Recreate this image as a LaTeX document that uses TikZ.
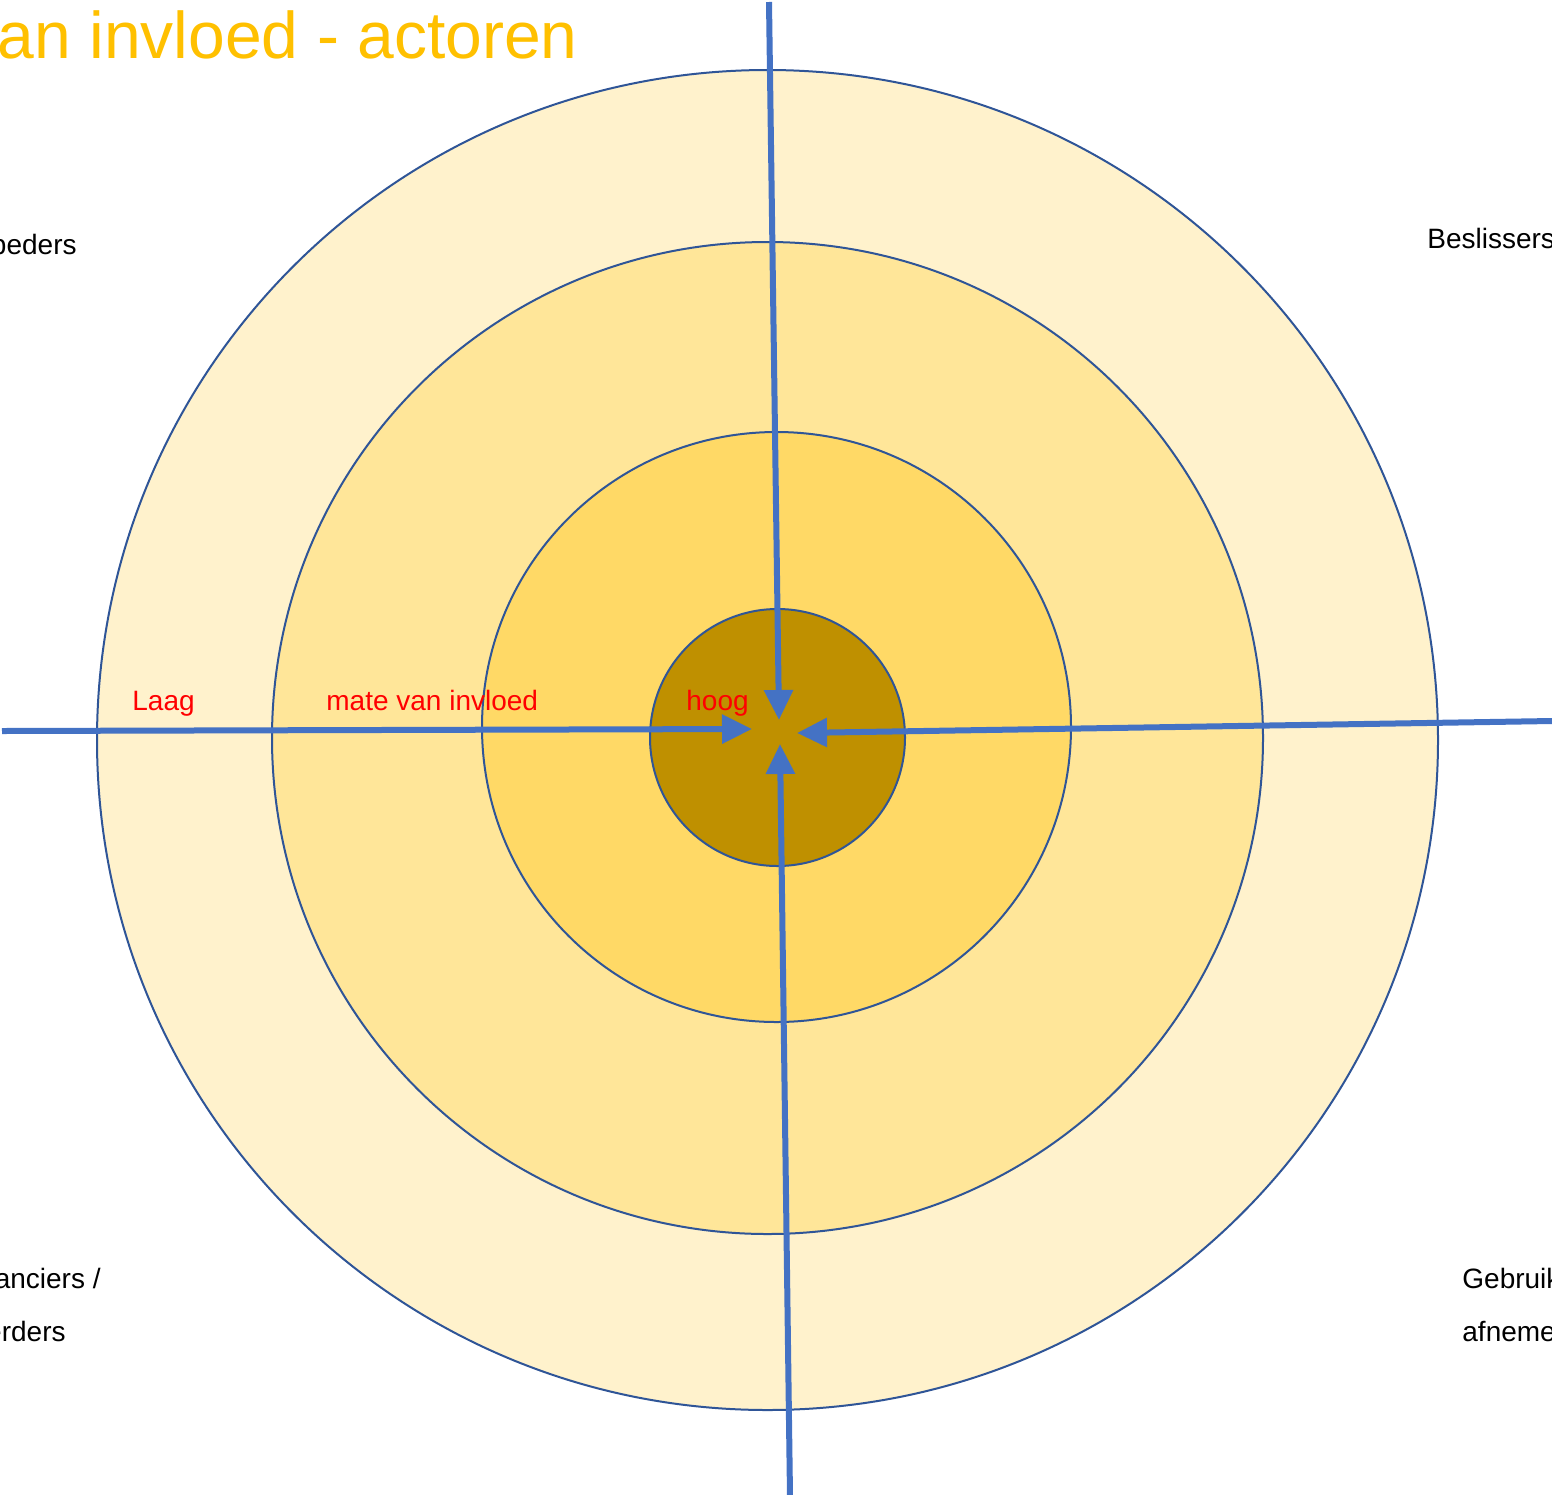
\documentclass[tikz,border=0pt]{standalone}
\usepackage{fontspec}
\setmainfont{Liberation Sans}
\usetikzlibrary{arrows.meta,shapes.geometric}
\definecolor{ringA}{HTML}{FFF2CC}
\definecolor{ringB}{HTML}{FFE699}
\definecolor{ringC}{HTML}{FFD966}
\definecolor{ringD}{HTML}{BF9000}
\definecolor{rim}{HTML}{2F5597}
\definecolor{axis}{HTML}{4472C4}
\definecolor{titel}{HTML}{FFC000}

\begin{document}
\begin{tikzpicture}[x=0.5pt, y=-0.5pt,
  ring/.style={ellipse, draw=rim, line width=1pt, inner sep=0pt},
  pijl/.style={draw=axis, line width=3pt, -{Triangle[length=15pt,width=14pt]}},
  actor/.style={font=\fontsize{14}{17}\selectfont, inner sep=0pt},
  schaal/.style={actor, text=red, anchor=base west}]
  \useasboundingbox (0,0) rectangle (1552,1494);
  \node[ring, fill=ringA, minimum width=670.5pt, minimum height=670pt] (r1) at (767.5,740) {};
  \node[ring, fill=ringB, minimum width=495.5pt, minimum height=496pt] (r2) at (767.5,738) {};
  \node[ring, fill=ringC, minimum width=294.5pt, minimum height=295pt] (r3) at (776.5,727) {};
  \node[ring, fill=ringD, minimum width=127.5pt, minimum height=128.5pt] (r4) at (777.5,737.5) {};

  \coordinate (boven) at (769,2);
  \coordinate (links) at (2,731);
  \coordinate (rechts) at (1552,721);
  \coordinate (onder) at (790,1496);
  \coordinate (tb) at (779,720);
  \coordinate (tl) at (752,729);
  \coordinate (tr) at (797,733);
  \coordinate (to) at (780,744);
  \path[pijl] (boven) -- (tb);
  \path[pijl] (links) -- (tl);
  \path[pijl] (rechts) -- (tr);
  \path[pijl] (onder) -- (to);

  \node[schaal] (laag) at (132,710) {Laag};
  \node[schaal] (mate) at (326,710) {mate van invloed};
  \node[schaal] (hoog) at (686,710) {hoog};

  \node[anchor=base east, inner sep=0pt, text=titel, font=\fontsize{33}{40}\selectfont] (titel) at (578,58) {an invloed - actoren};
  \node[actor, anchor=base east] (aanb) at (77,254) {peders};
  \node[actor, anchor=base west] (besl) at (1427,248) {Beslissers};
  \node[actor, anchor=base east] (lev1) at (101,1288) {anciers /};
  \node[actor, anchor=base east] (lev2) at (66,1341) {erders};
  \node[actor, anchor=base west] (gebr1) at (1462,1288) {Gebruik};
  \node[actor, anchor=base west] (gebr2) at (1462,1341) {afneme};
\end{tikzpicture}
\end{document}
